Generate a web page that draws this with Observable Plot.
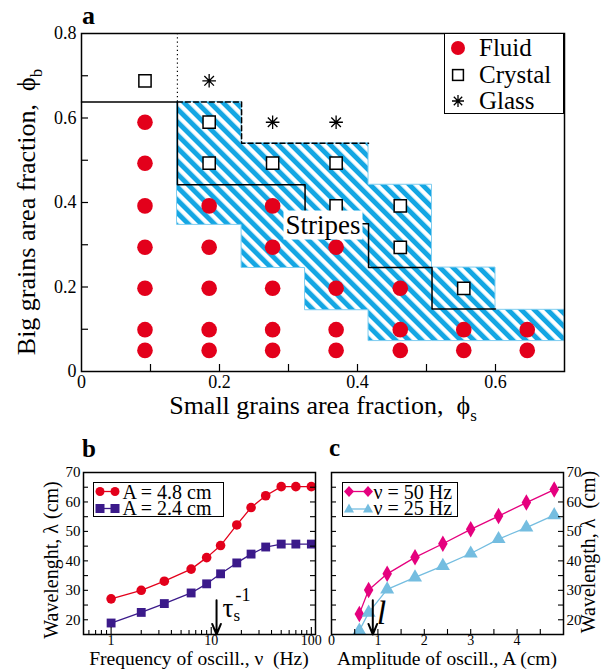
<!DOCTYPE html>
<html><head><meta charset="utf-8">
<script src="https://cdn.jsdelivr.net/npm/d3@7"></script>
<script src="https://cdn.jsdelivr.net/npm/@observablehq/plot@0.6"></script>
<style>
body{margin:0;background:#fff;}
#root{position:relative;width:613px;height:669px;font-family:'Liberation Serif','Times New Roman',serif;overflow:hidden;}
#root svg{position:absolute;overflow:visible;}
.lg{position:absolute;background:#fff;border:1.5px solid #000;box-sizing:border-box;}
.lg .row{position:absolute;left:0;white-space:nowrap;}
.lg .row svg{position:absolute;}
.lg .row span{position:absolute;}
</style></head>
<body><div id="root"></div>
<script>
// ---------------- Panel a data ----------------
const fluidS = [0.092,0.092,0.092,0.092,0.092,0.092,0.092, 0.185,0.185,0.185,0.185,0.185, 0.277,0.277,0.277,0.277,0.277, 0.369,0.369,0.369,0.369, 0.462,0.462,0.462, 0.554,0.554, 0.646,0.646];
const fluidB = [0.050,0.099,0.197,0.294,0.392,0.493,0.590, 0.050,0.099,0.197,0.294,0.392, 0.050,0.099,0.197,0.294,0.392, 0.050,0.099,0.197,0.294, 0.050,0.099,0.197, 0.050,0.099, 0.050,0.099];
const crystalS = [0.092,0.185,0.185,0.277,0.369,0.369,0.462,0.462,0.554];
const crystalB = [0.688,0.590,0.493,0.493,0.493,0.392,0.392,0.294,0.197];
const glassS = [0.185,0.277,0.369];
const glassB = [0.688,0.590,0.590];
const stripesS = [0.139,0.232,0.324,0.416,0.508,0.600,0.700];
const stripesLow = [0.347,0.245,0.145,0.072,0.072,0.072,0.072];
const stripesHigh = [0.638,0.540,0.540,0.442,0.246,0.146,0.146];
const solidS = [0,0.139,0.139,0.324,0.324,0.416,0.416,0.508,0.508,0.600];
const solidB = [0.638,0.638,0.442,0.442,0.350,0.350,0.246,0.246,0.148,0.148];
const dashedS = [0.139,0.232,0.232,0.416];
const dashedB = [0.638,0.638,0.540,0.540];
const dottedS = [0.139];
const dottedFrom = [0.638];
const dottedTo = [0.8];
const stripesLabel = [{s: 0.350, b: 0.347, text: "Stripes"}];
const tickLabelsAx = [0, 0.2, 0.4, 0.6];
const tickLabelsAy = [0, 0.2, 0.4, 0.6, 0.8];
const tickMarksAx = [0.1, 0.2, 0.3, 0.4, 0.5, 0.6];
const tickMarksAy = [0.1, 0.2, 0.3, 0.4, 0.5, 0.6, 0.7];

// ---------------- Panel b data ----------------
const freqB = [1, 2, 3.4, 6.3, 9, 12.4, 18, 25, 35, 50, 70, 100];
const lambdaA48 = [27.1, 30.0, 33.1, 37.2, 41.1, 45.2, 52.2, 58.1, 62.1, 65.2, 65.2, 65.2];
const lambdaA24 = [18.9, 22.5, 25.5, 29.1, 32.2, 35.6, 39.3, 42.3, 44.7, 45.7, 45.7, 45.7];
const tauNu = [11.3];
const tickLabelsBx = [1, 10, 100];
const tickMajorBx = [1, 10, 100];
const tickMinorBx = [0.6,0.7,0.8,0.9,2,3,4,5,6,7,8,9,20,30,40,50,60,70,80,90];
const tickLabelsLam = [20, 30, 40, 50, 60, 70];
const tickMarksLam = [20, 25, 30, 35, 40, 45, 50, 55, 60, 65];

// ---------------- Panel c data ----------------
const ampC = [0.6, 0.8, 1.2, 1.8, 2.4, 3.0, 3.6, 4.2, 4.8];
const lambdaNu50 = [22.0, 30.1, 35.6, 41.2, 45.8, 50.7, 55.2, 59.8, 64.2];
const lambdaNu25 = [16.3, 22.4, 30.3, 34.4, 38.3, 42.5, 47.4, 51.3, 55.5];
const ellA = [0.89];
const tickLabelsCx = [0, 1, 2, 3, 4];
const tickMarksCx = [0.5, 1, 1.5, 2, 2.5, 3, 3.5, 4, 4.5];

// ---------------- colours ----------------
const RED = "#e3001b", PURPLE = "#3b1a8a", MAGENTA = "#e5007e", SKY = "#74bde0", HATCH = "#14a6e3";
const FONT = "'Liberation Serif','Times New Roman',serif";

const root = document.getElementById("root");
function place(svg, left, top) { svg.style.left = left + "px"; svg.style.top = top + "px"; root.appendChild(svg); return svg; }
function addText(svg, {x, y, rotate = 0, anchor = "middle", size = 20, weight = "normal", italic = false, parts}) {
  const t = d3.select(svg).append("text")
    .attr("transform", `translate(${x},${y})` + (rotate ? ` rotate(${rotate})` : ""))
    .attr("text-anchor", anchor).attr("font-family", FONT).attr("font-size", size)
    .attr("font-weight", weight).attr("fill", "black");
  if (italic) t.attr("font-style", "italic");
  for (const p of parts) {
    const ts = t.append("tspan").text(p.t);
    if (p.size) ts.attr("font-size", p.size);
    if (p.dy) ts.attr("dy", p.dy);
  }
}
const star8 = {draw(ctx, size) {
  const r = Math.sqrt(size / Math.PI);
  for (let k = 0; k < 4; k++) {
    const a = k * Math.PI / 4, c = Math.cos(a) * r, s = Math.sin(a) * r;
    ctx.moveTo(-c, -s); ctx.lineTo(c, s);
  }
}};
const fmtA = d => d === 0 ? "0" : d.toFixed(1);

// ---------------- Panel a ----------------
const A = {w: 613, h: 430, ml: 81, mr: 49, mt: 33, mb: 59};
const AfW = A.w - A.ml - A.mr, AfH = A.h - A.mt - A.mb;
const fluid = fluidS.map((s, i) => ({s, b: fluidB[i]}));
const crystal = crystalS.map((s, i) => ({s, b: crystalB[i]}));
const glass = glassS.map((s, i) => ({s, b: glassB[i]}));
const stripes = stripesS.map((s, i) => ({s, lo: stripesLow[i], hi: stripesHigh[i]}));
const solid = solidS.map((s, i) => ({s, b: solidB[i]}));
const dashed = dashedS.map((s, i) => ({s, b: dashedB[i]}));
const dotted = dottedS.map((s, i) => ({s, b1: dottedFrom[i], b2: dottedTo[i]}));

const pa = Plot.plot({
  width: A.w, height: A.h, marginLeft: A.ml, marginRight: A.mr, marginTop: A.mt, marginBottom: A.mb,
  style: {fontFamily: FONT, fontSize: "18px", background: "transparent", color: "black"},
  x: {domain: [0, 0.7]}, y: {domain: [0, 0.8]},
  marks: [
    Plot.area(stripes, {x1: "s", y1: "lo", y2: "hi", curve: "step-after", fill: "url(#stripes)", stroke: "#7fcdf0", strokeWidth: 1}),
    Plot.line(solid, {x: "s", y: "b", stroke: "black", strokeWidth: 1.5}),
    Plot.line(dashed, {x: "s", y: "b", stroke: "black", strokeWidth: 1.5, strokeDasharray: "5,3"}),
    Plot.ruleX(dotted, {x: "s", y1: "b1", y2: "b2", stroke: "black", strokeWidth: 1.2, strokeDasharray: "1.2,3"}),
    Plot.dot(fluid, {x: "s", y: "b", r: 7.8, fill: RED, stroke: null}),
    Plot.dot(crystal, {x: "s", y: "b", symbol: "square", r: 6.9, fill: "white", stroke: "black", strokeWidth: 1.5}),
    Plot.dot(glass, {x: "s", y: "b", symbol: star8, r: 6.8, stroke: "black", strokeWidth: 1.3}),
    Plot.text(stripesLabel, {x: "s", y: "b", text: "text", fontSize: 27, fill: "black"}),
    Plot.tickX(tickMarksAx, {x: d => d, insetTop: AfH - 7, stroke: "black", strokeWidth: 1.2}),
    Plot.tickY(tickMarksAy, {y: d => d, insetRight: AfW - 7, stroke: "black", strokeWidth: 1.2}),
    Plot.axisX({ticks: tickLabelsAx, tickSize: 0, tickPadding: 4, tickFormat: fmtA, fontSize: 18, label: null}),
    Plot.axisY({ticks: tickLabelsAy, tickSize: 0, tickPadding: 5, tickFormat: fmtA, fontSize: 18, label: null}),
    Plot.frame({stroke: "black", strokeWidth: 1.5})
  ]
});
place(pa, 0, 0);
d3.select(pa).insert("defs", ":first-child").html(
  `<pattern id="stripes" patternUnits="userSpaceOnUse" width="9.2" height="9.2" patternTransform="rotate(-45)">
     <rect width="9.2" height="9.2" fill="white"/><rect width="4.9" height="9.2" fill="${HATCH}"/>
   </pattern>`);
// white box behind "Stripes"
d3.select(pa).selectAll("text").filter(function() { return this.textContent === "Stripes"; }).each(function() {
  const bb = this.getBBox();
  const r = document.createElementNS("http://www.w3.org/2000/svg", "rect");
  r.setAttribute("x", bb.x - 2); r.setAttribute("y", bb.y + 1);
  r.setAttribute("width", bb.width + 4); r.setAttribute("height", bb.height - 1);
  r.setAttribute("fill", "white");
  if (this.getAttribute("transform")) r.setAttribute("transform", this.getAttribute("transform"));
  this.parentNode.insertBefore(r, this);
});
addText(pa, {x: 82, y: 24, anchor: "start", size: 26, weight: "bold", parts: [{t: "a"}]});
addText(pa, {x: 323, y: 414, size: 26, parts: [{t: "Small grains area fraction,\u00a0\u00a0\u03d5"}, {t: "s", size: 17, dy: 7}]});
addText(pa, {x: 35, y: 212, rotate: -90, size: 26, parts: [{t: "Big grains area fraction,\u00a0\u00a0\u03d5"}, {t: "b", size: 17, dy: 7}]});

// legend a
(function() {
  const box = document.createElement("div");
  box.className = "lg";
  Object.assign(box.style, {left: "444px", top: "33px", width: "120px", height: "81px"});
  const rows = [
    {label: "Fluid", sym: `<circle cx="10" cy="10" r="7" fill="${RED}"/>`},
    {label: "Crystal", sym: `<rect x="4.6" y="4.6" width="10.8" height="10.8" fill="white" stroke="black" stroke-width="1.5"/>`},
    {label: "Glass", sym: `<path d="M10,4V16M4,10H16M5.8,5.8L14.2,14.2M14.2,5.8L5.8,14.2" stroke="black" stroke-width="1.3"/>`}
  ];
  rows.forEach((r, i) => {
    const row = document.createElement("div");
    row.className = "row";
    row.style.top = (1 + 26.5 * i) + "px"; row.style.height = "26px";
    row.innerHTML = `<svg width="20" height="20" style="left:3px;top:3px">${r.sym}</svg><span style="left:34px;top:0;font-size:25px;line-height:26px">${r.label}</span>`;
    box.appendChild(row);
  });
  root.appendChild(box);
})();

// ---------------- Panel b ----------------
const B = {w: 320, h: 239, ml: 83, mr: 5, mt: 42, mb: 35};
const BfW = B.w - B.ml - B.mr, BfH = B.h - B.mt - B.mb;
const b48 = freqB.map((nu, i) => ({nu, lam: lambdaA48[i]}));
const b24 = freqB.map((nu, i) => ({nu, lam: lambdaA24[i]}));
const tauArrow = tauNu.map(nu => ({nu, from: 26.6, to: 15}));
const pb = Plot.plot({
  width: B.w, height: B.h, marginLeft: B.ml, marginRight: B.mr, marginTop: B.mt, marginBottom: B.mb,
  style: {fontFamily: FONT, fontSize: "15px", background: "transparent", color: "black"},
  x: {type: "log", domain: [0.53, 110]}, y: {domain: [15, 70]},
  marks: [
    Plot.line(b48, {x: "nu", y: "lam", stroke: RED, strokeWidth: 1.3}),
    Plot.dot(b48, {x: "nu", y: "lam", r: 4.8, fill: RED, stroke: null}),
    Plot.line(b24, {x: "nu", y: "lam", stroke: PURPLE, strokeWidth: 1.3}),
    Plot.dot(b24, {x: "nu", y: "lam", symbol: "square", r: 5, fill: PURPLE, stroke: null}),
    Plot.arrow(tauArrow, {x1: "nu", x2: "nu", y1: "from", y2: "to", stroke: "black", strokeWidth: 2, headLength: 9, headAngle: 45}),
    Plot.text(tauArrow, {x: "nu", y: 23.8, text: () => "\u03c4", dx: 6, textAnchor: "start", fontSize: 27, fill: "black"}),
    Plot.text(tauArrow, {x: "nu", y: 23.8, text: () => "s", dx: 17, dy: 7, textAnchor: "start", fontSize: 17, fill: "black"}),
    Plot.text(tauArrow, {x: "nu", y: 23.8, text: () => "-1", dx: 19, dy: -13, textAnchor: "start", fontSize: 18, fill: "black"}),
    Plot.tickX(tickMajorBx, {x: d => d, insetTop: BfH - 7, stroke: "black", strokeWidth: 1.1}),
    Plot.tickX(tickMinorBx, {x: d => d, insetTop: BfH - 4, stroke: "black", strokeWidth: 1.1}),
    Plot.tickY(tickMarksLam, {y: d => d, insetRight: BfW - 5, stroke: "black", strokeWidth: 1.1}),
    Plot.tickY(tickMarksLam, {y: d => d, insetLeft: BfW - 5, stroke: "black", strokeWidth: 1.1}),
    Plot.axisX({ticks: tickLabelsBx, tickSize: 0, tickPadding: 1, tickFormat: d => String(d), fontSize: 14, label: null}),
    Plot.axisY({ticks: tickLabelsLam, tickSize: 0, tickPadding: 3, tickFormat: d => String(d), fontSize: 15, label: null}),
    Plot.frame({stroke: "black", strokeWidth: 1.5})
  ]
});
place(pb, 0, 430);
addText(pb, {x: 82, y: 27, anchor: "start", size: 25, weight: "bold", parts: [{t: "b"}]});
addText(pb, {x: 199, y: 234.5, size: 19.5, parts: [{t: "Frequency of oscill., \u03bd\u00a0\u00a0(Hz)"}]});
addText(pb, {x: 58, y: 130, rotate: -90, size: 20, parts: [{t: "Wavelenght, \u03bb (cm)"}]});

// ---------------- Panel c ----------------
const C = {w: 303, h: 239, ml: 21, mr: 50, mt: 42, mb: 35};
const CfW = C.w - C.ml - C.mr, CfH = C.h - C.mt - C.mb;
const c50 = ampC.map((a, i) => ({a, lam: lambdaNu50[i]}));
const c25 = ampC.map((a, i) => ({a, lam: lambdaNu25[i]}));
const ellArrow = ellA.map(a => ({a, from: 26.6, to: 15}));
const pc = Plot.plot({
  width: C.w, height: C.h, marginLeft: C.ml, marginRight: C.mr, marginTop: C.mt, marginBottom: C.mb,
  style: {fontFamily: FONT, fontSize: "15px", background: "transparent", color: "black"},
  x: {domain: [0, 5]}, y: {domain: [15, 70]},
  marks: [
    Plot.line(c50, {x: "a", y: "lam", stroke: MAGENTA, strokeWidth: 1.3}),
    Plot.dot(c50, {x: "a", y: "lam", symbol: "diamond", r: 5, fill: MAGENTA, stroke: null}),
    Plot.line(c25, {x: "a", y: "lam", stroke: SKY, strokeWidth: 1.3}),
    Plot.dot(c25, {x: "a", y: "lam", symbol: "triangle", r: 5.2, fill: SKY, stroke: null}),
    Plot.arrow(ellArrow, {x1: "a", x2: "a", y1: "from", y2: "to", stroke: "black", strokeWidth: 2, headLength: 9, headAngle: 45}),
    Plot.text(ellArrow, {x: "a", y: 22.4, text: () => "l", dx: 4, textAnchor: "start", fontSize: 34, fontStyle: "italic", fill: "black"}),
    Plot.tickX(tickMarksCx, {x: d => d, insetTop: CfH - 5, stroke: "black", strokeWidth: 1.1}),
    Plot.tickY(tickMarksLam, {y: d => d, insetRight: CfW - 5, stroke: "black", strokeWidth: 1.1}),
    Plot.tickY(tickMarksLam, {y: d => d, insetLeft: CfW - 5, stroke: "black", strokeWidth: 1.1}),
    Plot.axisX({ticks: tickLabelsCx, tickSize: 0, tickPadding: 1, tickFormat: d => String(d), fontSize: 14, label: null}),
    Plot.axisY({anchor: "right", ticks: tickLabelsLam, tickSize: 0, tickPadding: 3, tickFormat: d => String(d), fontSize: 15, label: null}),
    Plot.frame({stroke: "black", strokeWidth: 1.5})
  ]
});
place(pc, 310, 430);
addText(pc, {x: 19, y: 26, anchor: "start", size: 25, weight: "bold", parts: [{t: "c"}]});
addText(pc, {x: 137, y: 234.5, size: 19.5, parts: [{t: "Amplitude of oscill., A (cm)"}]});
addText(pc, {x: 285, y: 122, rotate: -90, size: 20, parts: [{t: "Wavelength, \u03bb\u00a0\u00a0(cm)"}]});

// legends b and c
function smallLegend(left, top, width, rows, symW, textLeft) {
  const box = document.createElement("div");
  box.className = "lg";
  Object.assign(box.style, {left: left + "px", top: top + "px", width: width + "px", height: "35px"});
  rows.forEach((r, i) => {
    const row = document.createElement("div");
    row.className = "row";
    row.style.top = (0.5 + 16.5 * i) + "px"; row.style.height = "16px";
    row.innerHTML = `<svg width="${symW + 12}" height="17" style="left:0;top:0">${r.sym}</svg><span style="left:${textLeft}px;top:0.5px;font-size:20px;line-height:16px">${r.label}</span>`;
    box.appendChild(row);
  });
  root.appendChild(box);
}
smallLegend(92.5, 481.5, 131, [
  {label: "A = 4.8 cm", sym: `<line x1="6" x2="21" y1="8.5" y2="8.5" stroke="${RED}" stroke-width="1.3"/><circle cx="6" cy="8.5" r="4.5" fill="${RED}"/><circle cx="21" cy="8.5" r="4.5" fill="${RED}"/>`},
  {label: "A = 2.4 cm", sym: `<line x1="6" x2="21" y1="8.5" y2="8.5" stroke="${PURPLE}" stroke-width="1.3"/><rect x="1.5" y="4" width="9" height="9" fill="${PURPLE}"/><rect x="16.5" y="4" width="9" height="9" fill="${PURPLE}"/>`}
], 22, 29);
smallLegend(341.5, 481.5, 116, [
  {label: "\u03bd = 50 Hz", sym: `<line x1="6" x2="25" y1="8.5" y2="8.5" stroke="${MAGENTA}" stroke-width="1.3"/><path d="M6,3L11,8.5L6,14L1,8.5Z" fill="${MAGENTA}"/><path d="M25,3L30,8.5L25,14L20,8.5Z" fill="${MAGENTA}"/>`},
  {label: "\u03bd = 25 Hz", sym: `<line x1="6" x2="25" y1="9" y2="9" stroke="${SKY}" stroke-width="1.3"/><path d="M6,3.5L11,12.5L1,12.5Z" fill="${SKY}"/><path d="M25,3.5L30,12.5L20,12.5Z" fill="${SKY}"/>`}
], 26, 31);
</script>
</body></html>
